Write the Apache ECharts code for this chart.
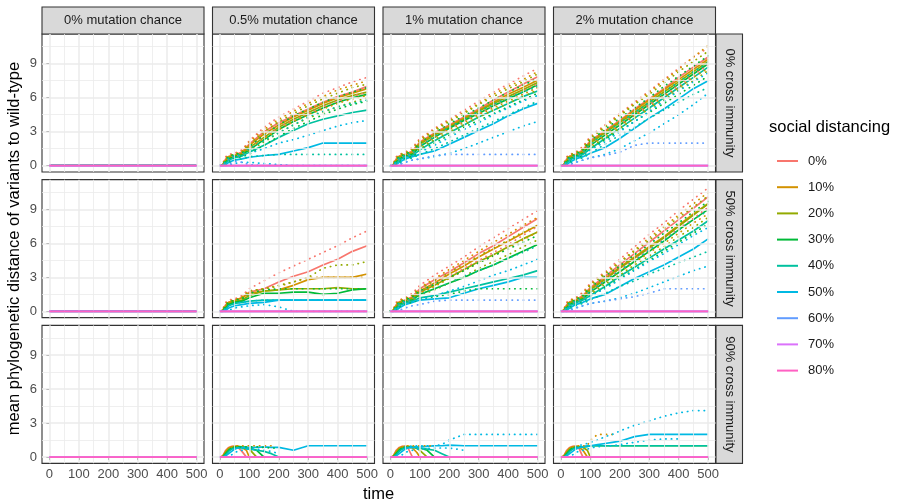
<!DOCTYPE html>
<html>
<head>
<meta charset="utf-8">
<script src="https://cdn.jsdelivr.net/npm/echarts@6/dist/echarts.min.js"></script>
<style>
html, body { margin: 0; padding: 0; background: #fff; }
#main { width: 898px; height: 504px; }
</style>
</head>
<body>
<div id="main"></div>
<script>
var levels = ['0%', '10%', '20%', '30%', '40%', '50%', '60%', '70%', '80%'];
var levelColors = ['#F8766D', '#D39200', '#93AA00', '#00BA38', '#00C19F', '#00B9E3', '#619CFF', '#DB72FB', '#FF61C3'];
var mutationLabels = ['0% mutation chance', '0.5% mutation chance', '1% mutation chance', '2% mutation chance'];
var crossLabels = ['0% cross immunity', '50% cross immunity', '90% cross immunity'];

var xMajor = [0, 100, 200, 300, 400, 500];
var xMinor = [50, 150, 250, 350, 450];
var yMajor = [0, 3, 6, 9];
var yMinor = [1.5, 4.5, 7.5, 10.5];

// sample times
var tMain = [0, 10, 20, 30, 50, 75, 100, 150, 200, 250, 300, 350, 400, 450, 500];
var tLow = [0, 10, 20, 30, 40, 50, 60, 75, 90, 100, 125, 150, 175, 200, 250, 300, 350, 400, 450, 500];
var zeroMain = [0, 0, 0, 0, 0, 0, 0, 0, 0, 0, 0, 0, 0, 0, 0];
var zeroLow = [0, 0, 0, 0, 0, 0, 0, 0, 0, 0, 0, 0, 0, 0, 0, 0, 0, 0, 0, 0];

// 0% cross immunity
var mut05Cross0Mean = [
    [0, 0.1, 0.6, 0.8, 0.95, 1.2, 1.9, 3.0, 3.8, 4.4, 5.0, 5.6, 6.1, 6.5, 7.0],
    [0, 0.1, 0.5, 0.8, 0.9, 1.1, 1.8, 2.8, 3.6, 4.3, 4.9, 5.5, 6.0, 6.4, 6.8],
    [0, 0.1, 0.4, 0.7, 0.85, 1.0, 1.6, 2.5, 3.4, 4.1, 4.7, 5.3, 5.8, 6.2, 6.5],
    [0, 0, 0.3, 0.6, 0.8, 0.95, 1.4, 2.3, 3.2, 3.9, 4.5, 5.1, 5.6, 6.0, 6.3],
    [0, 0, 0.2, 0.5, 0.7, 0.85, 1.2, 1.8, 2.5, 3.1, 3.7, 4.1, 4.4, 4.7, 4.9],
    [0, 0, 0.1, 0.3, 0.5, 0.6, 0.75, 0.9, 1.0, 1.3, 1.6, 2.0, 2.0, 2.0, 2.0]
];
var mut05Cross0Upper = [
    [0, 0.2, 0.8, 1.0, 1.1, 1.4, 2.2, 3.4, 4.3, 5.0, 5.7, 6.4, 6.9, 7.4, 7.8],
    [0, 0.2, 0.7, 0.9, 1.0, 1.3, 2.1, 3.2, 4.1, 4.8, 5.5, 6.1, 6.7, 7.1, 7.5],
    [0, 0.1, 0.6, 0.9, 1.0, 1.2, 1.9, 3.0, 3.9, 4.6, 5.3, 5.9, 6.4, 6.9, 7.2],
    [0, 0.1, 0.5, 0.8, 1.0, 1.1, 1.7, 2.7, 3.6, 4.4, 5.0, 5.6, 6.1, 6.5, 6.9],
    [0, 0.1, 0.4, 0.7, 0.9, 1.0, 1.5, 2.2, 2.9, 3.6, 4.3, 4.8, 5.2, 5.5, 5.8],
    [0, 0, 0.3, 0.5, 0.8, 0.9, 1.1, 1.5, 2.0, 2.3, 2.7, 3.1, 3.5, 3.8, 4.0],
    [0, 0, 0, 0.1, 0.4, 0.3, 0.1, 0, 0, 0, 0, 0, 0, 0, 0]
];
var mut05Cross0Lower = [
    [0, 0, 0.4, 0.7, 0.9, 1.0, 1.6, 2.6, 3.4, 4.0, 4.6, 5.2, 5.7, 6.1, 6.5],
    [0, 0, 0.3, 0.6, 0.8, 0.9, 1.5, 2.4, 3.2, 3.9, 4.5, 5.0, 5.5, 5.9, 6.2],
    [0, 0, 0.2, 0.5, 0.8, 0.9, 1.3, 2.1, 2.9, 3.6, 4.2, 4.7, 5.2, 5.6, 6.0],
    [0, 0, 0.1, 0.4, 0.7, 0.8, 1.0, 1.8, 2.6, 3.3, 3.9, 4.5, 5.0, 5.4, 5.7],
    [0, 0, 0, 0.2, 0.5, 0.6, 0.8, 0.9, 1.0, 1.0, 1.0, 1.0, 1.0, 1.0, 1.0],
    [0, 0, 0, 0, 0.2, 0.3, 0.3, 0.2, 0.1, 0, 0, 0, 0, 0, 0]
];

var mut1Cross0Mean = [
    [0, 0.1, 0.6, 0.85, 1.0, 1.3, 2.1, 2.9, 3.6, 4.3, 5.0, 5.8, 6.5, 7.2, 7.85],
    [0, 0.1, 0.5, 0.8, 0.95, 1.2, 2.0, 2.8, 3.5, 4.2, 4.9, 5.6, 6.3, 6.9, 7.55],
    [0, 0.1, 0.4, 0.75, 0.9, 1.1, 1.9, 2.7, 3.4, 4.1, 4.8, 5.5, 6.1, 6.7, 7.35],
    [0, 0, 0.3, 0.6, 0.85, 1.0, 1.7, 2.5, 3.3, 4.0, 4.6, 5.3, 5.9, 6.5, 7.15],
    [0, 0, 0.2, 0.5, 0.75, 0.9, 1.4, 2.2, 2.9, 3.6, 4.3, 4.9, 5.5, 6.1, 6.6],
    [0, 0, 0.1, 0.3, 0.6, 0.8, 1.0, 1.3, 1.9, 2.5, 3.1, 3.7, 4.4, 5.0, 5.5]
];
var mut1Cross0Upper = [
    [0, 0.2, 0.8, 1.0, 1.2, 1.6, 2.4, 3.3, 4.1, 4.9, 5.7, 6.5, 7.2, 7.9, 8.6],
    [0, 0.2, 0.7, 1.0, 1.1, 1.5, 2.3, 3.2, 4.0, 4.7, 5.5, 6.3, 7.0, 7.6, 8.3],
    [0, 0.1, 0.6, 0.9, 1.1, 1.4, 2.2, 3.1, 3.9, 4.6, 5.4, 6.1, 6.8, 7.4, 8.1],
    [0, 0.1, 0.5, 0.8, 1.0, 1.3, 2.0, 2.9, 3.7, 4.4, 5.1, 5.8, 6.5, 7.1, 7.7],
    [0, 0.1, 0.4, 0.7, 0.9, 1.1, 1.7, 2.6, 3.4, 4.1, 4.8, 5.4, 6.0, 6.5, 7.0],
    [0, 0, 0.3, 0.5, 0.8, 1.0, 1.2, 1.8, 2.5, 3.2, 3.8, 4.5, 5.1, 5.7, 6.2],
    [0, 0, 0, 0.1, 0.3, 0.5, 0.6, 0.9, 1.0, 1.0, 1.0, 1.0, 1.0, 1.0, 1.0]
];
var mut1Cross0Lower = [
    [0, 0, 0.4, 0.7, 0.9, 1.1, 1.8, 2.6, 3.3, 4.0, 4.6, 5.3, 6.0, 6.6, 7.2],
    [0, 0, 0.3, 0.6, 0.8, 1.0, 1.7, 2.5, 3.2, 3.8, 4.5, 5.1, 5.7, 6.3, 6.9],
    [0, 0, 0.2, 0.5, 0.8, 0.9, 1.5, 2.3, 3.0, 3.6, 4.3, 4.9, 5.5, 6.1, 6.7],
    [0, 0, 0.1, 0.4, 0.7, 0.8, 1.3, 2.0, 2.7, 3.4, 4.0, 4.6, 5.2, 5.8, 6.4],
    [0, 0, 0, 0.2, 0.5, 0.7, 1.0, 1.5, 2.1, 2.7, 3.3, 3.9, 4.5, 5.1, 5.7],
    [0, 0, 0, 0.1, 0.3, 0.5, 0.6, 0.8, 1.1, 1.5, 2.0, 2.5, 3.0, 3.5, 3.9]
];

var mut2Cross0Mean = [
    [0, 0.1, 0.6, 0.85, 1.0, 1.4, 2.2, 3.1, 4.0, 5.0, 5.9, 6.8, 7.8, 8.7, 9.6],
    [0, 0.1, 0.5, 0.8, 0.95, 1.3, 2.1, 3.0, 3.9, 4.9, 5.8, 6.7, 7.6, 8.5, 9.4],
    [0, 0.1, 0.4, 0.75, 0.9, 1.2, 2.0, 2.9, 3.8, 4.7, 5.6, 6.5, 7.4, 8.3, 9.2],
    [0, 0, 0.3, 0.6, 0.85, 1.1, 1.8, 2.7, 3.6, 4.5, 5.4, 6.3, 7.2, 8.1, 9.0],
    [0, 0, 0.2, 0.5, 0.75, 1.0, 1.5, 2.4, 3.3, 4.2, 5.1, 6.0, 6.9, 7.8, 8.7],
    [0, 0, 0.1, 0.3, 0.6, 0.8, 1.1, 1.6, 2.4, 3.3, 4.2, 5.0, 5.9, 6.8, 7.5]
];
var mut2Cross0Upper = [
    [0, 0.2, 0.8, 1.0, 1.2, 1.7, 2.6, 3.6, 4.6, 5.6, 6.6, 7.6, 8.6, 9.6, 10.4],
    [0, 0.2, 0.7, 1.0, 1.1, 1.6, 2.5, 3.5, 4.5, 5.5, 6.5, 7.5, 8.5, 9.6, 10.6],
    [0, 0.1, 0.6, 0.9, 1.1, 1.5, 2.4, 3.4, 4.4, 5.4, 6.3, 7.3, 8.3, 9.2, 10.1],
    [0, 0.1, 0.5, 0.8, 1.0, 1.4, 2.2, 3.2, 4.2, 5.1, 6.0, 7.0, 7.9, 8.8, 9.7],
    [0, 0.1, 0.4, 0.7, 0.9, 1.2, 1.9, 2.9, 3.8, 4.7, 5.6, 6.5, 7.4, 8.3, 9.1],
    [0, 0, 0.3, 0.5, 0.8, 1.0, 1.4, 2.1, 3.0, 3.9, 4.8, 5.7, 6.6, 7.4, 8.2],
    [0, 0, 0, 0.1, 0.3, 0.5, 0.7, 0.9, 1.2, 1.8, 2.0, 2.0, 2.0, 2.0, 2.0]
];
var mut2Cross0Lower = [
    [0, 0, 0.4, 0.7, 0.9, 1.2, 1.9, 2.8, 3.6, 4.5, 5.4, 6.2, 7.1, 8.0, 8.9],
    [0, 0, 0.3, 0.6, 0.8, 1.1, 1.8, 2.7, 3.5, 4.4, 5.2, 6.1, 6.9, 7.8, 8.6],
    [0, 0, 0.2, 0.5, 0.8, 1.0, 1.6, 2.5, 3.3, 4.2, 5.0, 5.8, 6.7, 7.5, 8.4],
    [0, 0, 0.1, 0.4, 0.7, 0.9, 1.4, 2.3, 3.1, 3.9, 4.7, 5.5, 6.3, 7.1, 7.9],
    [0, 0, 0, 0.2, 0.5, 0.7, 1.1, 1.9, 2.7, 3.4, 4.2, 4.9, 5.6, 6.3, 6.9],
    [0, 0, 0, 0.1, 0.3, 0.5, 0.7, 1.0, 1.5, 2.2, 2.9, 3.7, 4.5, 5.4, 6.4]
];

// 50% cross immunity
var mut05Cross50Mean = [
    [0, 0.1, 0.6, 0.8, 0.95, 1.2, 1.7, 2.0, 2.6, 3.1, 3.5, 4.1, 4.6, 5.3, 5.8],
    [0, 0.1, 0.5, 0.8, 0.95, 1.2, 1.6, 1.8, 1.9, 2.3, 2.8, 3.0, 3.0, 3.0, 3.3],
    [0, 0.1, 0.4, 0.7, 0.85, 1.0, 1.4, 1.8, 1.9, 2.0, 2.0, 2.0, 2.1, 2.0, 2.0],
    [0, 0, 0.3, 0.6, 0.8, 0.9, 1.2, 1.6, 1.6, 1.7, 1.7, 1.5, 1.6, 1.9, 2.0],
    [0, 0, 0.2, 0.5, 0.7, 0.8, 0.9, 1.0, 1.0, 1.0, 1.0, 1.0, 1.0, 1.0, 1.0],
    [0, 0, 0.1, 0.3, 0.5, 0.6, 0.7, 0.8, 1.0, 1.0, 1.0, 1.0, 1.0, 1.0, 1.0]
];
var mut05Cross50Upper = [
    [0, 0.2, 0.8, 1.0, 1.1, 1.4, 2.0, 2.7, 3.4, 4.0, 4.6, 5.2, 5.8, 6.5, 7.1],
    [0, 0.2, 0.7, 0.9, 1.0, 1.3, 1.8, 2.0, 2.2, 2.6, 3.0, 3.0, 3.0, 3.0, 3.0],
    [0, 0.1, 0.6, 0.9, 1.0, 1.2, 1.8, 2.0, 2.3, 2.6, 3.0, 3.8, 4.1, 4.1, 4.4],
    [0, 0.1, 0.5, 0.8, 1.0, 1.1, 1.6, 1.9, 2.0, 2.0, 2.0, 2.0, 2.0, 2.0, 2.0],
    null,
    [0, 0, 0.3, 0.5, 0.7, 0.8, 0.9, 1.0, 1.0, 1.0, 1.0, 1.0, 1.0, 1.0, 1.0]
];
var mut05Cross50Lower = [
    null, null, null, null, null,
    [0, 0, 0, 0.1, 0.3, 0.4, 0.5, 0.6, 0.4, 0, 0, 0, 0, 0, 0]
];

var mut1Cross50Mean = [
    [0, 0.1, 0.6, 0.85, 1.0, 1.3, 2.0, 2.8, 3.5, 4.3, 5.1, 5.8, 6.6, 7.4, 8.2],
    [0, 0.1, 0.5, 0.8, 0.95, 1.2, 1.8, 2.5, 3.3, 4.0, 4.8, 5.5, 6.2, 6.9, 7.6],
    [0, 0.1, 0.4, 0.75, 0.9, 1.1, 1.7, 2.3, 3.0, 3.7, 4.4, 5.0, 5.7, 6.4, 7.0],
    [0, 0, 0.3, 0.6, 0.85, 1.0, 1.5, 2.0, 2.5, 3.0, 3.6, 4.1, 4.7, 5.3, 5.9],
    [0, 0, 0.2, 0.5, 0.75, 0.9, 1.2, 1.4, 1.7, 2.0, 2.3, 2.6, 2.9, 3.2, 3.6],
    [0, 0, 0.1, 0.3, 0.6, 0.8, 1.0, 1.1, 1.2, 1.6, 2.0, 2.3, 2.6, 3.0, 3.0]
];
var mut1Cross50Upper = [
    [0, 0.2, 0.8, 1.0, 1.2, 1.6, 2.3, 3.2, 4.0, 4.8, 5.7, 6.5, 7.3, 8.1, 8.9],
    [0, 0.2, 0.7, 1.0, 1.1, 1.5, 2.1, 2.9, 3.7, 4.5, 5.3, 6.1, 6.8, 7.6, 8.3],
    [0, 0.1, 0.6, 0.9, 1.1, 1.4, 2.0, 2.7, 3.4, 4.2, 4.9, 5.6, 6.3, 7.0, 7.6],
    [0, 0.1, 0.5, 0.8, 1.0, 1.3, 1.8, 2.4, 3.0, 3.6, 4.3, 4.9, 5.5, 6.1, 6.7],
    [0, 0.1, 0.4, 0.7, 0.9, 1.1, 1.5, 2.0, 2.5, 3.1, 3.6, 4.1, 4.7, 5.2, 5.8],
    [0, 0, 0.3, 0.5, 0.8, 0.9, 1.1, 1.4, 1.8, 2.2, 2.7, 3.2, 3.6, 4.1, 4.6],
    [0, 0, 0, 0.1, 0.3, 0.5, 0.6, 0.9, 1.0, 1.0, 1.0, 1.0, 1.0, 1.0, 1.0]
];
var mut1Cross50Lower = [
    [0, 0, 0.4, 0.7, 0.9, 1.1, 1.7, 2.5, 3.1, 3.8, 4.5, 5.2, 5.9, 6.7, 7.5],
    [0, 0, 0.3, 0.6, 0.8, 1.0, 1.6, 2.2, 2.9, 3.6, 4.3, 4.9, 5.6, 6.3, 7.0],
    [0, 0, 0.2, 0.5, 0.8, 0.9, 1.4, 1.9, 2.5, 3.1, 3.8, 4.4, 5.0, 5.7, 6.3],
    [0, 0, 0.1, 0.4, 0.7, 0.8, 1.1, 1.3, 1.5, 1.8, 2.0, 2.0, 2.0, 2.0, 2.0]
];

var mut2Cross50Mean = [
    [0, 0.1, 0.6, 0.85, 1.0, 1.4, 2.1, 3.1, 4.1, 5.1, 6.1, 7.1, 8.1, 9.1, 10.1],
    [0, 0.1, 0.5, 0.8, 0.95, 1.3, 2.0, 2.9, 3.9, 4.8, 5.7, 6.6, 7.6, 8.6, 9.5],
    [0, 0.1, 0.4, 0.75, 0.9, 1.2, 1.9, 2.8, 3.8, 4.7, 5.6, 6.5, 7.5, 8.5, 9.5],
    [0, 0, 0.3, 0.6, 0.85, 1.1, 1.7, 2.6, 3.5, 4.4, 5.3, 6.2, 7.2, 8.1, 9.0],
    [0, 0, 0.2, 0.5, 0.75, 1.0, 1.4, 2.2, 3.1, 3.9, 4.7, 5.5, 6.3, 7.1, 8.0],
    [0, 0, 0.1, 0.3, 0.6, 0.8, 1.1, 1.5, 2.2, 2.9, 3.5, 4.1, 4.8, 5.5, 6.4]
];
var mut2Cross50Upper = [
    [0, 0.2, 0.8, 1.0, 1.2, 1.7, 2.5, 3.5, 4.6, 5.7, 6.8, 7.8, 8.9, 9.9, 10.9],
    [0, 0.2, 0.7, 1.0, 1.1, 1.6, 2.4, 3.4, 4.4, 5.4, 6.5, 7.5, 8.5, 9.5, 10.5],
    [0, 0.1, 0.6, 0.9, 1.1, 1.5, 2.3, 3.3, 4.3, 5.3, 6.3, 7.3, 8.3, 9.2, 10.2],
    [0, 0.1, 0.5, 0.8, 1.0, 1.4, 2.1, 3.1, 4.0, 5.0, 5.9, 6.9, 7.8, 8.8, 9.7],
    [0, 0.1, 0.4, 0.7, 0.9, 1.2, 1.8, 2.7, 3.6, 4.5, 5.4, 6.3, 7.2, 8.1, 8.9],
    [0, 0, 0.3, 0.5, 0.8, 1.0, 1.4, 2.0, 2.8, 3.6, 4.4, 5.1, 5.9, 6.7, 7.4],
    [0, 0, 0, 0.1, 0.3, 0.5, 0.7, 0.9, 1.1, 1.3, 1.6, 2.0, 2.0, 2.0, 2.0]
];
var mut2Cross50Lower = [
    [0, 0, 0.4, 0.7, 0.9, 1.2, 1.8, 2.8, 3.7, 4.6, 5.5, 6.4, 7.3, 8.2, 9.2],
    [0, 0, 0.3, 0.6, 0.8, 1.1, 1.7, 2.6, 3.5, 4.3, 5.2, 6.0, 6.9, 7.8, 8.6],
    [0, 0, 0.2, 0.5, 0.8, 1.0, 1.5, 2.4, 3.2, 4.1, 4.9, 5.7, 6.6, 7.4, 8.3],
    [0, 0, 0.1, 0.4, 0.7, 0.9, 1.3, 2.1, 2.9, 3.7, 4.5, 5.3, 6.1, 6.9, 7.7],
    [0, 0, 0, 0.2, 0.5, 0.7, 1.0, 1.6, 2.2, 2.7, 3.3, 3.8, 4.3, 4.8, 5.3],
    [0, 0, 0, 0.1, 0.3, 0.5, 0.7, 0.9, 1.2, 1.6, 2.1, 2.6, 3.1, 3.6, 4.0]
];

// 90% cross immunity (times from tLow, lines stop when they die out)
var mut05Cross90Mean = [
    [0, 0.1, 0.6, 0.85, 0.95, 0.95, 0.9, 0.5, 0],
    [0, 0.1, 0.5, 0.8, 0.9, 0.95, 0.95, 0.85, 0.6, 0],
    [0, 0.05, 0.4, 0.7, 0.85, 0.9, 0.95, 0.9, 0.8, 0.7, 0],
    [0, 0, 0.3, 0.6, 0.8, 0.85, 0.9, 0.9, 0.85, 0.8, 0.6, 0],
    [0, 0, 0.2, 0.5, 0.7, 0.8, 0.8, 0.8, 0.75, 0.7, 0.6, 0.5, 0.3, 0],
    [0, 0, 0.1, 0.3, 0.5, 0.7, 0.8, 0.85, 0.85, 0.85, 0.85, 0.9, 0.85, 0.85, 0.6, 1.0, 1.0, 1.0, 1.0, 1.0]
];
var mut05Cross90Upper = [
    null,
    [null, null, null, null, 0.9, 1.0, 1.0, 1.0, 1.0, 1.0, 1.0, 1.0, 1.0],
    null,
    [null, null, null, null, null, 0.9, 0.9, 0.9, 0.9, 0.9, 0.9, 0.85, 0.8, 0.8]
];
var mut05Cross90Lower = [
    null, null, null, null, null,
    [null, null, null, null, 0.2, 0.4, 0.5, 0.6, 0.7, 0.7, 0.7, 0.6, 0.5, 0.3]
];

var mut1Cross90Mean = [
    [0, 0.1, 0.6, 0.85, 0.95, 0.95, 0.8, 0],
    [0, 0.1, 0.5, 0.8, 0.9, 0.95, 0.9, 0.8, 0.4, 0],
    [0, 0.05, 0.4, 0.7, 0.85, 0.9, 0.95, 0.9, 0.75, 0.6, 0],
    [0, 0, 0.3, 0.6, 0.8, 0.85, 0.9, 0.9, 0.85, 0.8, 0.6, 0],
    [0, 0, 0.2, 0.5, 0.7, 0.8, 0.85, 0.85, 0.8, 0.8, 0.7, 0.6, 0.3, 0],
    [0, 0, 0.1, 0.3, 0.5, 0.7, 0.8, 0.85, 0.9, 0.9, 0.95, 1.0, 1.0, 1.05, 1.0, 1.0, 1.0, 1.0, 1.0, 1.0]
];
var mut1Cross90Upper = [
    null,
    [null, null, null, null, 0.9, 1.0, 1.0, 1.0, 1.0, 1.0, 1.0, 1.0],
    null, null, null,
    [null, null, null, null, null, 0.9, 0.9, 1.0, 1.0, 1.0, 1.0, 1.0, 1.1, 1.5, 2.0, 2.0, 2.0, 2.0, 2.0, 2.0]
];
var mut1Cross90Lower = [
    null, null, null, null, null,
    [null, null, null, null, 0.2, 0.4, 0.5, 0.6, 0.7, 0.7, 0.75, 0.8, 0.8, 0.8, 0.6]
];

var mut2Cross90Mean = [
    [0, 0.1, 0.6, 0.85, 0.95, 0.95, 0.85, 0],
    [0, 0.1, 0.5, 0.8, 0.9, 0.95, 0.9, 0.6, 0],
    [0, 0.05, 0.4, 0.7, 0.85, 0.9, 0.95, 0.85, 0.6, 0],
    [0, 0, 0.3, 0.6, 0.8, 0.85, 0.9, 0.9, 0.95, 1.0, 1.0, 1.0, 1.0, 1.0, 1.0, 1.0, 1.0, 1.0, 1.0, 1.0],
    [0, 0, 0.2, 0.5, 0.7, 0.8, 0.85, 0.9, 0.95, 1.0, 1.0, 1.0, 1.0, 1.0, 1.0, 1.0, 1.0, 1.0, 1.0, 1.0],
    [0, 0, 0.1, 0.3, 0.5, 0.7, 0.8, 0.9, 1.0, 1.0, 1.1, 1.2, 1.3, 1.4, 1.8, 2.0, 2.0, 2.0, 2.0, 2.0]
];
var mut2Cross90Upper = [
    null,
    [null, null, null, null, 0.9, 1.0, 1.0, 1.0, 1.0, 1.5, 2.0, 2.0, 2.0],
    null, null, null,
    [null, null, null, null, null, 0.9, 1.0, 1.1, 1.2, 1.3, 1.5, 1.8, 2.0, 2.3, 2.8, 3.2, 3.6, 3.9, 4.1, 4.1]
];
var mut2Cross90Lower = [
    null, null, null, null, null,
    [null, null, null, null, 0.2, 0.4, 0.5, 0.6, 0.7, 0.8, 0.9, 1.0, 1.0, 1.1, 1.3, 1.5, 1.6, 1.6]
];

var panels = [
    { row: 0, col: 0, time: tMain, mean: [], upper: [], lower: [] },
    { row: 0, col: 1, time: tMain, mean: mut05Cross0Mean, upper: mut05Cross0Upper, lower: mut05Cross0Lower },
    { row: 0, col: 2, time: tMain, mean: mut1Cross0Mean, upper: mut1Cross0Upper, lower: mut1Cross0Lower },
    { row: 0, col: 3, time: tMain, mean: mut2Cross0Mean, upper: mut2Cross0Upper, lower: mut2Cross0Lower },
    { row: 1, col: 0, time: tMain, mean: [], upper: [], lower: [] },
    { row: 1, col: 1, time: tMain, mean: mut05Cross50Mean, upper: mut05Cross50Upper, lower: mut05Cross50Lower },
    { row: 1, col: 2, time: tMain, mean: mut1Cross50Mean, upper: mut1Cross50Upper, lower: mut1Cross50Lower },
    { row: 1, col: 3, time: tMain, mean: mut2Cross50Mean, upper: mut2Cross50Upper, lower: mut2Cross50Lower },
    { row: 2, col: 0, time: tLow, mean: [], upper: [], lower: [] },
    { row: 2, col: 1, time: tLow, mean: mut05Cross90Mean, upper: mut05Cross90Upper, lower: mut05Cross90Lower },
    { row: 2, col: 2, time: tLow, mean: mut1Cross90Mean, upper: mut1Cross90Upper, lower: mut1Cross90Lower },
    { row: 2, col: 3, time: tLow, mean: mut2Cross90Mean, upper: mut2Cross90Upper, lower: mut2Cross90Lower }
];

// layout
var font = 'Liberation Sans, Arial, Helvetica, sans-serif';
var panelW = 162, panelH = 138;
function colLeft(c) { return 42 + c * 170.5; }
function rowTop(r) { return 34 + r * 145.67; }

var chart = echarts.init(document.getElementById('main'));

var grids = [], xAxes = [], yAxes = [], series = [], graphics = [];

function toPoints(time, vals) {
    return time.map(function (t, k) {
        var v = vals[k];
        return [t, v == null ? '-' : v];
    });
}

function addLine(g, lvl, time, vals, dotted, z) {
    series.push({
        name: levels[lvl],
        type: 'line',
        xAxisIndex: g,
        yAxisIndex: g,
        data: toPoints(time, vals),
        symbol: 'none',
        showSymbol: false,
        silent: true,
        animation: false,
        z: z || 3,
        lineStyle: {
            color: levelColors[lvl],
            width: 1.7,
            type: dotted ? [0.4, 5.2] : 'solid',
            cap: dotted ? 'round' : 'butt'
        },
        itemStyle: { color: levelColors[lvl] },
        emphasis: { disabled: true }
    });
}

function gridLine(key, v, w) {
    var o = { lineStyle: { color: '#EBEBEB', width: w, type: 'solid' } };
    o[key] = v;
    return o;
}

panels.forEach(function (p, g) {
    var left = colLeft(p.col), top = rowTop(p.row);
    var bottomRow = p.row === 2, leftCol = p.col === 0;
    grids.push({
        left: left, top: top, width: panelW, height: panelH,
        show: true, backgroundColor: '#ffffff',
        borderColor: '#333333', borderWidth: 1.1
    });
    xAxes.push({
        type: 'value', gridIndex: g, min: -25, max: 525,
        splitLine: { show: false },
        axisLine: { show: false },
        axisTick: { show: bottomRow, customValues: xMajor, length: 3, lineStyle: { color: '#333333', width: 1 } },
        axisLabel: { show: bottomRow, customValues: xMajor, color: '#4D4D4D', fontSize: 13, margin: 5, fontFamily: font }
    });
    yAxes.push({
        type: 'value', gridIndex: g, min: -0.554, max: 11.625,
        splitLine: { show: false },
        axisLine: { show: false },
        axisTick: { show: leftCol, customValues: yMajor, length: 3, lineStyle: { color: '#333333', width: 1 } },
        axisLabel: { show: leftCol, customValues: yMajor, color: '#4D4D4D', fontSize: 13, margin: 5, fontFamily: font }
    });

    // panel grid lines
    var gl = [];
    xMinor.forEach(function (v) { gl.push(gridLine('xAxis', v, 0.8)); });
    yMinor.forEach(function (v) { gl.push(gridLine('yAxis', v, 0.8)); });
    xMajor.forEach(function (v) { gl.push(gridLine('xAxis', v, 1.5)); });
    yMajor.forEach(function (v) { gl.push(gridLine('yAxis', v, 1.5)); });
    series.push({
        type: 'line', name: 'grid' + g, xAxisIndex: g, yAxisIndex: g, data: [],
        silent: true, animation: false, z: 1,
        markLine: { silent: true, symbol: ['none', 'none'], label: { show: false }, animation: false, data: gl }
    });

    var zero = p.time === tLow ? zeroLow : zeroMain;
    for (var i = 0; i < 6; i++) addLine(g, i, p.time, p.mean[i] || zero, false, 3);
    for (var j = 0; j < 9; j++) {
        if (p.upper[j]) addLine(g, j, p.time, p.upper[j], true, 4);
        if (p.lower[j]) addLine(g, j, p.time, p.lower[j], true, 4);
    }
    // the flat high-distancing lines are drawn last, pink on top
    for (var k = 6; k < 9; k++) addLine(g, k, p.time, p.mean[k] || zero, false, k - 1);
});

// facet strips
mutationLabels.forEach(function (lab, c) {
    var x = colLeft(c);
    graphics.push({ type: 'rect', silent: true, shape: { x: x, y: 7, width: panelW, height: 27 },
        style: { fill: '#D9D9D9', stroke: '#333333', lineWidth: 1.1 } });
    graphics.push({ type: 'text', silent: true, x: x + panelW / 2, y: 20.5,
        style: { text: lab, fill: '#1A1A1A', fontSize: 13, fontFamily: font, textAlign: 'center', textVerticalAlign: 'middle', verticalAlign: 'middle' } });
});
crossLabels.forEach(function (lab, r) {
    var y = rowTop(r);
    graphics.push({ type: 'rect', silent: true, shape: { x: 716, y: y, width: 26.5, height: panelH },
        style: { fill: '#D9D9D9', stroke: '#333333', lineWidth: 1.1 } });
    graphics.push({ type: 'text', silent: true, x: 729.5, y: y + panelH / 2, rotation: -Math.PI / 2,
        style: { text: lab, fill: '#1A1A1A', fontSize: 13, fontFamily: font, textAlign: 'center', textVerticalAlign: 'middle', verticalAlign: 'middle' } });
});

// axis titles and legend title
graphics.push({ type: 'text', silent: true, x: 14, y: 248.5, rotation: Math.PI / 2,
    style: { text: 'mean phylogenetic distance of variants to wild-type', fill: '#000000', fontSize: 16.5, fontFamily: font, textAlign: 'center', textVerticalAlign: 'middle', verticalAlign: 'middle' } });
graphics.push({ type: 'text', silent: true, x: 378.5, y: 494.5,
    style: { text: 'time', fill: '#000000', fontSize: 16.5, fontFamily: font, textAlign: 'center', textVerticalAlign: 'middle', verticalAlign: 'middle' } });
graphics.push({ type: 'text', silent: true, x: 769, y: 127,
    style: { text: 'social distancing', fill: '#000000', fontSize: 16.5, fontFamily: font, textAlign: 'left', textVerticalAlign: 'middle', verticalAlign: 'middle' } });

var option = {
    animation: false,
    backgroundColor: '#ffffff',
    textStyle: { fontFamily: font },
    grid: grids,
    xAxis: xAxes,
    yAxis: yAxes,
    legend: {
        data: levels,
        orient: 'vertical',
        left: 772,
        top: 149,
        icon: 'rect',
        itemWidth: 21,
        itemHeight: 2,
        itemGap: 12.2,
        selectedMode: false,
        textStyle: { fontSize: 13, color: '#1A1A1A', lineHeight: 14, padding: [0, 0, 0, 5], fontFamily: font }
    },
    graphic: graphics,
    series: series
};

chart.setOption(option);
</script>
</body>
</html>
